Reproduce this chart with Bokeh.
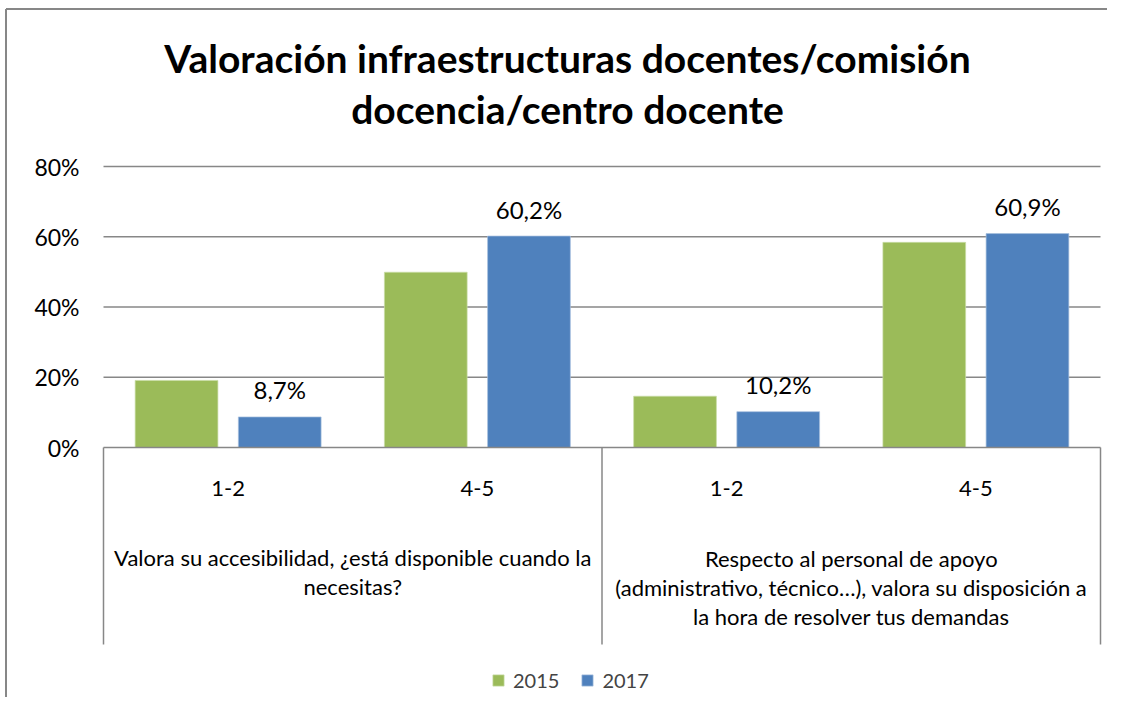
from bokeh.plotting import figure
from bokeh.models import Range1d, ColumnDataSource, Legend, LegendItem
from bokeh.core.properties import value
from bokeh.embed import file_html
from bokeh.resources import INLINE

# ---------------- data ----------------
title_lines = ["Valoración infraestructuras docentes/comisión", "docencia/centro docente"]
categories = ["1-2", "4-5", "1-2", "4-5"]
group_lines = [
    ["Valora su accesibilidad, ¿está disponible cuando la", "necesitas?"],
    ["Respecto al personal de apoyo", "(administrativo, técnico…), valora su disposición a",
     "la hora de resolver tus demandas"],
]
series_names = ["2015", "2017"]
v2015 = [0.191, 0.499, 0.146, 0.584]
v2017 = [0.087, 0.602, 0.102, 0.609]
y_ticks = [0.0, 0.2, 0.4, 0.6, 0.8]
y_tick_labels = ["0%", "20%", "40%", "60%", "80%"]

GREEN = "#9BBB59"
BLUE = "#4F81BD"
GRAY = "#878787"
FONT = "Lato"

# ---------------- geometry (canvas pixels) ----------------
W, H = 1107, 697
PLOT_LEFT = 103.0     # canvas x of category boundary 0
CAT_W = 249.25        # pixels per category
ZERO_Y = 447.0        # canvas y of value 0
UNIT = 351.25         # pixels per 1.0 (100%)


def dx(cx):
    return (cx - PLOT_LEFT) / CAT_W


def dy(cy):
    return (ZERO_Y - cy) / UNIT


p = figure(width=W, height=H, output_backend="svg", toolbar_location=None,
           x_range=Range1d(dx(0), dx(W)), y_range=Range1d(dy(H), dy(0)),
           x_axis_location=None, y_axis_location=None, min_border=0)
p.outline_line_color = None
p.grid.visible = False
p.background_fill_color = "white"
p.border_fill_color = "white"

n = len(categories)
xc = [i + 0.5 for i in range(n)]
x_max = float(n)

# gridlines (from tick list)
gl = [t for t in y_ticks if t > 0]
p.segment(x0=[0] * len(gl), x1=[x_max] * len(gl), y0=gl, y1=gl,
          line_color=GRAY, line_width=1.5)

# bars
OFF = 0.207
BW = 0.332
src = ColumnDataSource(dict(
    x15=[x - OFF for x in xc], x17=[x + OFF for x in xc],
    v15=v2015, v17=v2017,
    lab=[f"{v*100:.1f}%".replace(".", ",") for v in v2017],
))
r15 = p.vbar(x="x15", top="v15", bottom=0, width=BW, source=src,
             fill_color=GREEN, line_color="#C9DCA6", line_width=0.7)
r17 = p.vbar(x="x17", top="v17", bottom=0, width=BW, source=src,
             fill_color=BLUE, line_color="#A8C0DE", line_width=0.7)

# data labels (2017 only)
p.text(x="x17", y="v17", text="lab", source=src, text_align="center",
       text_baseline="middle", y_offset=-27, text_font=value(FONT),
       text_font_size="24px", text_color="black")

# y tick labels
p.text(x=[dx(79)] * len(y_ticks), y=y_ticks, text=y_tick_labels,
       text_align="right", text_baseline="middle", text_font=value(FONT),
       text_font_size="23px", text_color="black")

# category box: horizontal axis line and vertical separators
p.segment(x0=[0], x1=[x_max], y0=[0], y1=[0], line_color=GRAY, line_width=1.5)
sep_x = [0.0, 2.0, 4.0]
p.segment(x0=sep_x, x1=sep_x, y0=[0] * 3, y1=[dy(644)] * 3,
          line_color=GRAY, line_width=1.5)

# level-1 labels
p.text(x=xc, y=[dy(488)] * n, text=categories, text_align="center",
       text_baseline="middle", text_font=value(FONT), text_font_size="22px",
       text_color="black")

# level-2 labels
g_centers = [1.0, 3.0]
g_first_y = [557, 558]
LINE_H = 29
for gc, fy, lines in zip(g_centers, g_first_y, group_lines):
    ys = [dy(fy + k * LINE_H) for k in range(len(lines))]
    p.text(x=[gc] * len(lines), y=ys, text=lines, text_align="center",
           text_baseline="middle", text_font=value(FONT), text_font_size="22px",
           text_color="black")

# title
p.text(x=[dx(567)] * 2, y=[dy(57), dy(108)], text=title_lines,
       text_align="center", text_baseline="middle", text_font=value(FONT),
       text_font_size="39px", text_font_style="bold", text_color="black")

# chart border (left and top edges)
p.segment(x0=[dx(5.5), dx(5.5)], x1=[dx(5.5), dx(W)], y0=[dy(8.5), dy(8.5)],
          y1=[dy(H), dy(8.5)], line_color=GRAY, line_width=2)

# legend
legend = Legend(items=[LegendItem(label=series_names[0], renderers=[r15]),
                       LegendItem(label=series_names[1], renderers=[r17])],
                orientation="horizontal", location=(491, 5),
                glyph_width=14, glyph_height=14, label_standoff=8, spacing=21,
                padding=0, margin=0, border_line_color=None,
                background_fill_alpha=0,
                label_text_font=FONT, label_text_font_size="20px")
p.add_layout(legend, "center")

open("out.html", "w").write(file_html(p, INLINE))
